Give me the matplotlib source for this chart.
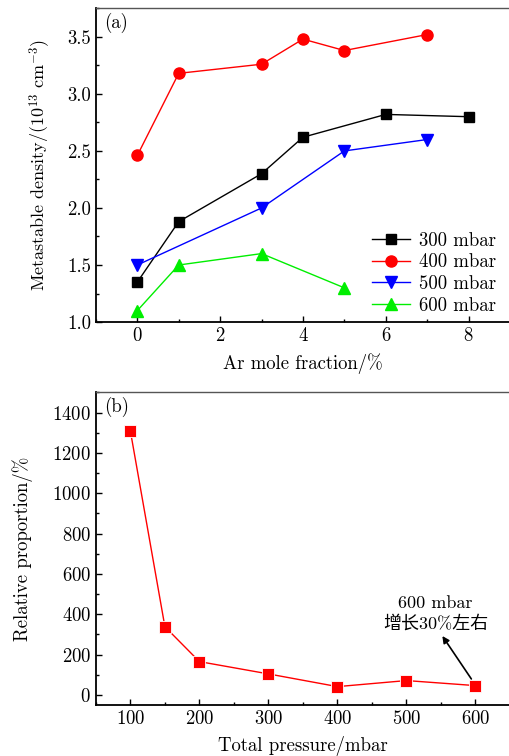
import numpy as np
import matplotlib
matplotlib.use('Agg')
import matplotlib.pyplot as plt
from matplotlib.ticker import MultipleLocator

plt.rcParams['font.family'] = ['cmr10', 'Noto Sans CJK SC']
plt.rcParams['mathtext.fontset'] = 'cm'
plt.rcParams['axes.unicode_minus'] = False
plt.rcParams['axes.formatter.use_mathtext'] = True

# panel (a): metastable density vs Ar mole fraction
x300 = [0, 1, 3, 4, 6, 8]
y300 = [1.35, 1.88, 2.30, 2.62, 2.82, 2.80]
x400 = [0, 1, 3, 4, 5, 7]
y400 = [2.46, 3.18, 3.26, 3.48, 3.38, 3.52]
x500 = [0, 3, 5, 7]
y500 = [1.50, 2.00, 2.50, 2.60]
x600 = [0, 1, 3, 5]
y600 = [1.10, 1.50, 1.60, 1.30]

# panel (b): relative proportion vs total pressure
pressure = [100, 150, 200, 300, 400, 500, 600]
proportion = [1308, 338, 165, 104, 41, 71, 46]

fig = plt.figure(figsize=(5.1, 7.56), dpi=100)
ax1 = fig.add_axes([0.188, 0.574, 0.812, 0.415])
ax2 = fig.add_axes([0.188, 0.0675, 0.812, 0.4135])

fs = 13.5

def style(ax):
    for s in ['left', 'bottom']:
        ax.spines[s].set_linewidth(1.3)
    ax.spines['top'].set_linewidth(1.0)
    ax.spines['top'].set_color('#555555')
    ax.spines['right'].set_visible(False)
    ax.tick_params(which='both', direction='in', labelsize=fs, width=1)
    ax.tick_params(which='major', length=4)
    ax.tick_params(which='minor', length=2.5)

ax1.plot(x300, y300, '-s', color='black', ms=7.5, lw=1, label='300 mbar')
ax1.plot(x400, y400, '-o', color='red', ms=8, lw=1, label='400 mbar')
ax1.plot(x500, y500, '-v', color='blue', ms=8.5, lw=1, label='500 mbar')
ax1.plot(x600, y600, '-^', color='#00ee00', ms=8.5, lw=1, label='600 mbar')
ax1.set_xlim(-1, 9)
ax1.set_ylim(1.0, 3.75)
ax1.xaxis.set_major_locator(MultipleLocator(2))
ax1.xaxis.set_minor_locator(MultipleLocator(1))
ax1.set_yticks([1.0, 1.5, 2.0, 2.5, 3.0, 3.5])
ax1.set_yticklabels(['1.0', '1.5', '2.0', '2.5', '3.0', '3.5'])
ax1.yaxis.set_minor_locator(MultipleLocator(0.25))
ax1.set_xlabel('Ar mole fraction/%', fontsize=fs, labelpad=6)
ax1.set_ylabel(r'Metastable density/$(10^{13}\ \mathrm{cm}^{-3})$', fontsize=fs - 0.5, labelpad=10)
ax1.text(0.02, 0.985, '(a)', transform=ax1.transAxes, fontsize=fs, va='top')
ax1.legend(loc='lower right', bbox_to_anchor=(0.985, 0.0), frameon=False,
           fontsize=fs, handlelength=2.0, handletextpad=0.5,
           labelspacing=0.2, borderaxespad=0.0)
style(ax1)

ax2.plot(pressure, proportion, '-s', color='red', ms=8, lw=1,
         markeredgecolor='white', markeredgewidth=0.6)
ax2.set_xlim(50, 650)
ax2.set_ylim(-50, 1500)
ax2.xaxis.set_major_locator(MultipleLocator(100))
ax2.xaxis.set_minor_locator(MultipleLocator(50))
ax2.set_yticks([0, 200, 400, 600, 800, 1000, 1200, 1400])
ax2.yaxis.set_minor_locator(MultipleLocator(100))
ax2.set_xlabel('Total pressure/mbar', fontsize=fs, labelpad=6)
ax2.set_ylabel('Relative proportion/%', fontsize=fs, labelpad=14)
ax2.text(0.02, 0.985, '(b)', transform=ax2.transAxes, fontsize=fs, va='top')
ax2.text(542, 315, '600 mbar\n增长30%左右', ha='center', va='bottom',
         fontsize=fs - 0.5, linespacing=1.25)
ax2.annotate('', xy=(552, 292), xytext=(594, 79),
             arrowprops=dict(arrowstyle='-|>', color='black', lw=1.2, mutation_scale=10,
                             shrinkA=0, shrinkB=0))
style(ax2)

fig.savefig('out.png', dpi=100)
